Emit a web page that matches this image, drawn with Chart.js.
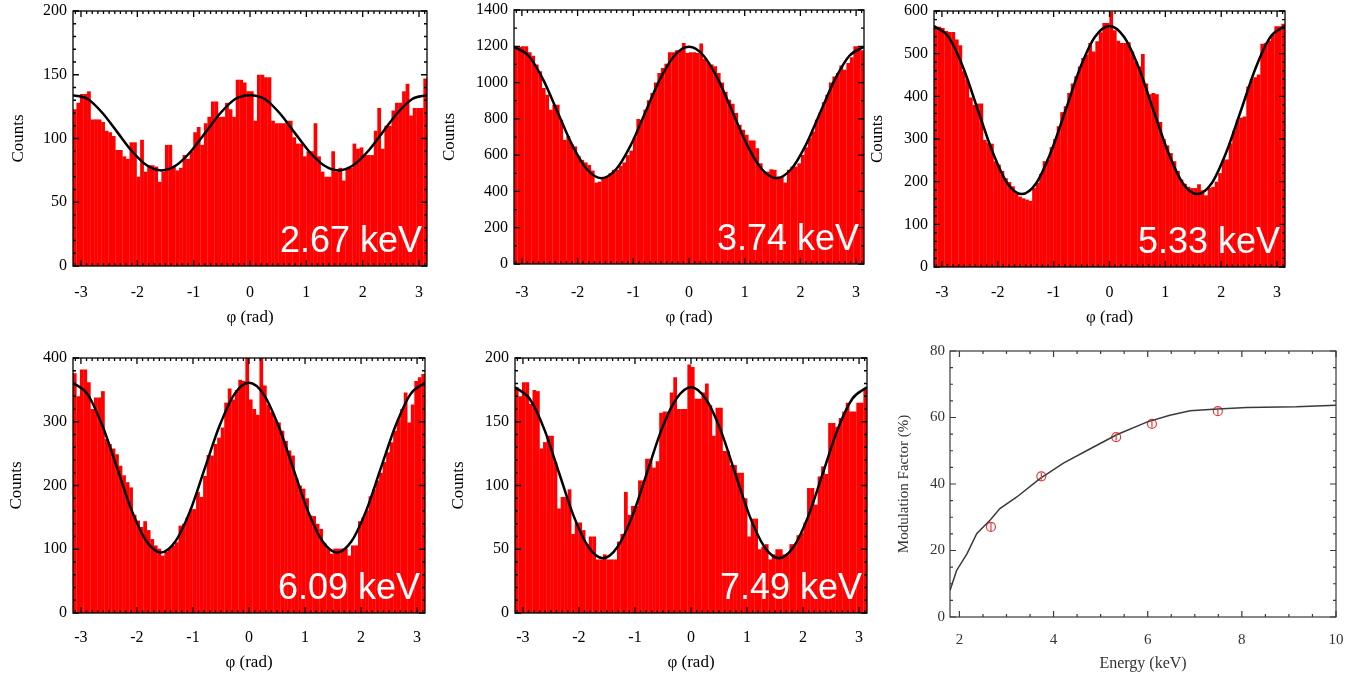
<!DOCTYPE html>
<html>
<head>
<meta charset="utf-8">
<script src="https://cdn.jsdelivr.net/npm/chart.js@4.4.0/dist/chart.umd.min.js"></script>
<style>
  html, body { margin: 0; padding: 0; background: #fff; }
  body { width: 1348px; height: 677px; position: relative; overflow: hidden; }
  .panel { position: absolute; }
</style>
</head>
<body>
<div class="panel" id="p267"><canvas></canvas></div>
<div class="panel" id="p374"><canvas></canvas></div>
<div class="panel" id="p533"><canvas></canvas></div>
<div class="panel" id="p609"><canvas></canvas></div>
<div class="panel" id="p749"><canvas></canvas></div>
<div class="panel" id="pmod"><canvas></canvas></div>
<script>
// histogram counts, 100 bins from -pi to pi
const COUNTS_267 = [
  123,128,135,135,137,115,115,115,113,106,
  105,102,91,91,86,84,97,97,70,99,
  74,79,79,78,66,74,95,95,78,75,
  77,87,84,90,105,109,95,112,117,129,
  129,117,117,128,123,117,146,146,144,137,
  137,114,150,150,148,148,114,112,112,112,
  114,114,101,96,96,86,90,90,112,86,
  74,70,70,90,74,77,67,77,77,96,
  92,93,87,87,87,106,124,92,110,110,
  122,128,128,137,143,118,124,124,124,147
];
const COUNTS_374 = [
  1200,1196,1200,1200,1167,1148,1100,1062,970,933,
  850,878,878,795,684,706,660,648,596,574,
  560,546,515,449,454,473,482,500,519,519,
  541,560,600,625,699,799,795,850,902,942,
  1001,1053,1080,1104,1167,1167,1178,1178,1218,1163,
  1167,1167,1163,1215,1130,1112,1100,1090,1053,1001,
  950,905,883,832,767,740,712,681,681,638,
  555,509,509,522,519,482,482,449,519,537,
  537,555,601,643,694,730,795,835,891,933,
  1000,1034,1053,1094,1071,1108,1140,1200,1200,1178
];
const COUNTS_533 = [
  562,563,560,553,551,551,533,520,459,439,
  397,380,383,383,298,291,289,248,240,225,
  208,199,189,175,165,161,158,155,185,197,
  218,248,252,281,300,330,363,377,408,430,
  447,470,490,498,525,505,529,550,572,572,
  598,555,530,525,525,527,505,482,470,499,
  430,405,408,405,340,300,285,267,248,225,
  205,195,188,185,185,194,180,168,185,188,
  200,220,252,252,290,320,345,350,353,423,
  440,445,451,523,525,530,544,564,564,570
];
const COUNTS_609 = [
  376,340,382,382,362,320,338,338,348,273,
  265,258,249,231,216,205,197,154,145,135,
  144,130,116,106,101,90,96,102,106,111,
  137,140,150,163,163,190,182,215,248,247,
  265,275,291,330,352,335,350,366,364,410,
  335,320,311,410,357,327,315,304,299,286,
  270,255,247,211,200,195,180,153,152,140,
  132,109,101,93,101,101,101,101,90,106,
  106,144,150,161,183,194,208,220,237,252,
  268,286,304,320,346,299,327,364,370,375
];
const COUNTS_749 = [
  177,170,181,181,164,175,174,129,134,139,
  139,118,82,91,91,97,62,71,71,65,
  54,60,60,42,42,46,42,42,42,56,
  62,95,77,84,84,104,104,121,121,114,
  119,157,158,158,173,185,160,160,160,195,
  193,168,168,173,180,163,139,161,161,127,
  127,116,116,110,110,90,60,74,74,50,
  52,54,42,46,50,50,46,47,54,54,
  61,63,71,98,98,85,107,115,109,149,
  149,146,153,158,165,158,158,165,165,175
];

// fitted modulation curves, read at these phi values
const PHI_FIT = [-3.1416,-2.88,-2.618,-2.356,-2.094,-1.833,-1.571,-1.309,-1.047,-0.785,-0.524,-0.262,0,
                 0.262,0.524,0.785,1.047,1.309,1.571,1.833,2.094,2.356,2.618,2.88,3.1416];
const FIT_267 = [134,131,120,105,90,79,75,79,90,105,120,131,134,131,120,105,90,79,75,79,90,105,120,131,134];
const FIT_374 = [1197,1148,1016,835,654,522,473,522,654,835,1016,1148,1197,1148,1016,835,654,522,473,522,654,835,1016,1148,1197];
const FIT_533 = [565,539,467,368,270,197,171,197,270,368,467,539,565,539,467,368,270,197,171,197,270,368,467,539,565];
const FIT_609 = [361,343,294,228,161,113,95,113,161,228,294,343,361,343,294,228,161,113,95,113,161,228,294,343,361];
const FIT_749 = [177,168,144,110,76,52,43,52,76,110,144,168,177,168,144,110,76,52,43,52,76,110,144,168,177];

// modulation factor vs energy
const CURVE_E = [1.8,1.94,2.16,2.37,2.65,2.86,3.22,3.71,4.21,4.78,5.34,5.98,6.47,6.9,7.39,8.1,9.16,10.0];
const CURVE_MF = [8.0,14.0,19.0,25.1,29.1,32.6,36.1,41.6,46.3,50.6,54.8,58.6,60.7,62.0,62.5,63.0,63.2,63.7];
const MEAS_E = [2.67,3.74,5.33,6.09,7.49];
const MEAS_MF = [27.1,42.3,54.1,58.1,61.9];
const MEAS_ERR = [1.3,1.0,1.0,1.0,1.1];

Chart.defaults.font.family = '"Liberation Serif", "Times New Roman", serif';
Chart.defaults.color = '#000';

// draws the IDL-style box with inward ticks on all four sides, plus the energy tag
const idlFrame = {
  id: 'idlFrame',
  afterDatasetsDraw(chart, args, opts) {
    const { ctx, chartArea: a, scales: { x, y } } = chart;
    ctx.save();
    if (opts.label) {
      ctx.fillStyle = '#fff';
      ctx.font = '36px "Liberation Sans", Arial, sans-serif';
      ctx.textAlign = 'right';
      ctx.textBaseline = 'alphabetic';
      ctx.fillText(opts.label, a.right - 5, a.bottom - 14);
    }
    ctx.strokeStyle = opts.color;
    ctx.lineWidth = opts.lineWidth;
    ctx.beginPath();
    const xt = (v, len) => {
      const px = x.getPixelForValue(v);
      ctx.moveTo(px, a.bottom); ctx.lineTo(px, a.bottom - len);
      ctx.moveTo(px, a.top); ctx.lineTo(px, a.top + len);
    };
    const yt = (v, len) => {
      const py = y.getPixelForValue(v);
      ctx.moveTo(a.left, py); ctx.lineTo(a.left + len, py);
      ctx.moveTo(a.right, py); ctx.lineTo(a.right - len, py);
    };
    for (let v = Math.ceil(x.min / opts.xMinor) * opts.xMinor; v <= x.max + 1e-9; v += opts.xMinor) xt(v, opts.minor);
    for (let v = Math.ceil(y.min / opts.yMinor) * opts.yMinor; v <= y.max + 1e-9; v += opts.yMinor) yt(v, opts.minor);
    x.ticks.forEach(t => xt(t.value, opts.major));
    y.ticks.forEach(t => yt(t.value, opts.major));
    ctx.stroke();
    ctx.strokeRect(a.left, a.top, a.right - a.left, a.bottom - a.top);
    ctx.restore();
  }
};
Chart.register(idlFrame);

function place(id, box) {
  const div = document.getElementById(id);
  div.style.left = box[0] + 'px';
  div.style.top = box[1] + 'px';
  div.style.width = (box[2] - box[0]) + 'px';
  div.style.height = (box[3] - box[1]) + 'px';
  return div.querySelector('canvas');
}

// pin the axis boxes so the plot area lands where the original has it
function fixX(h) {
  return s => { s.height = h; s.paddingLeft = 0; s.paddingRight = 0; };
}
function fixY(w) {
  return s => { s.width = w; s.paddingTop = 0; s.paddingBottom = 0; };
}

function histogram(id, counts, fit, o) {
  const canvas = place(id, o.box);
  const step = 2 * Math.PI / counts.length;
  const bars = counts.map((c, i) => ({ x: -Math.PI + (i + 0.5) * step, y: c }));
  const curve = PHI_FIT.map((p, i) => ({ x: p, y: fit[i] }));

  new Chart(canvas, {
    type: 'bar',
    data: {
      datasets: [{
        type: 'line',
        data: curve,
        borderColor: '#000',
        borderWidth: 2.5,
        pointRadius: 0,
        cubicInterpolationMode: 'monotone',
        order: 0
      }, {
        type: 'bar',
        data: bars,
        backgroundColor: '#ff0000',
        borderWidth: 0,
        barPercentage: 1.06,
        categoryPercentage: 1,
        order: 1
      }]
    },
    options: {
      responsive: true,
      maintainAspectRatio: false,
      animation: false,
      events: [],
      layout: { padding: { left: 0, bottom: 0, top: o.plot[1] - o.box[1], right: o.box[2] - o.plot[2] } },
      plugins: {
        legend: { display: false },
        tooltip: { enabled: false },
        idlFrame: { label: o.label, color: '#000', lineWidth: 1.3, xMinor: 0.1, yMinor: o.yMinor, major: 6, minor: 3 }
      },
      scales: {
        x: {
          type: 'linear',
          min: -Math.PI,
          max: Math.PI,
          offset: false,
          grid: { display: false, drawTicks: false },
          border: { display: false },
          ticks: { stepSize: 1, includeBounds: false, padding: o.xPad, autoSkip: false, maxRotation: 0, font: { size: 16 } },
          title: { display: true, text: 'φ (rad)', font: { size: 17 }, padding: { top: 0, bottom: o.xTitlePad } },
          afterFit: fixX(o.box[3] - o.plot[3])
        },
        y: {
          min: 0,
          max: o.yMax,
          grid: { display: false, drawTicks: false },
          border: { display: false },
          ticks: { stepSize: o.yStep, padding: 6, font: { size: 16 }, callback: v => String(v) },
          title: { display: true, text: 'Counts', font: { size: 17 }, padding: { top: o.yTitlePad, bottom: 0 } },
          afterFit: fixY(o.plot[0] - o.box[0])
        }
      }
    }
  });
}

histogram('p267', COUNTS_267, FIT_267, {
  label: '2.67 keV', box: [0, 0, 432, 334], plot: [73, 11, 427, 266],
  yMax: 200, yStep: 50, yMinor: 10, xPad: 17, xTitlePad: 6, yTitlePad: 8
});
histogram('p374', COUNTS_374, FIT_374, {
  label: '3.74 keV', box: [436, 0, 867, 334], plot: [514, 10, 864, 264],
  yMax: 1400, yStep: 200, yMinor: 100, xPad: 19, xTitlePad: 6, yTitlePad: 3
});
histogram('p533', COUNTS_533, FIT_533, {
  label: '5.33 keV', box: [867, 0, 1290, 334], plot: [934, 11, 1285, 267],
  yMax: 600, yStep: 100, yMinor: 20, xPad: 16, xTitlePad: 6, yTitlePad: 0
});
histogram('p609', COUNTS_609, FIT_609, {
  label: '6.09 keV', box: [0, 340, 432, 677], plot: [73, 358, 425, 613],
  yMax: 400, yStep: 100, yMinor: 20, xPad: 15, xTitlePad: 4, yTitlePad: 6
});
histogram('p749', COUNTS_749, FIT_749, {
  label: '7.49 keV', box: [440, 340, 872, 677], plot: [515, 358, 867, 613],
  yMax: 200, yStep: 50, yMinor: 10, xPad: 15, xTitlePad: 4, yTitlePad: 8
});

// modulation factor panel
(function () {
  const box = [890, 340, 1348, 677], plot = [950, 351, 1336, 617];
  const canvas = place('pmod', box);
  const errorBars = {
    id: 'errorBars',
    afterDatasetsDraw(chart) {
      const { ctx, scales: { x, y } } = chart;
      ctx.save();
      ctx.strokeStyle = '#e8393a';
      ctx.lineWidth = 1.2;
      ctx.beginPath();
      MEAS_E.forEach((e, i) => {
        const px = x.getPixelForValue(e);
        ctx.moveTo(px, y.getPixelForValue(MEAS_MF[i] - MEAS_ERR[i]));
        ctx.lineTo(px, y.getPixelForValue(MEAS_MF[i] + MEAS_ERR[i]));
      });
      ctx.stroke();
      ctx.restore();
    }
  };
  new Chart(canvas, {
    type: 'line',
    data: {
      datasets: [{
        data: CURVE_E.map((e, i) => ({ x: e, y: CURVE_MF[i] })),
        borderColor: '#3a3a3a',
        borderWidth: 1.5,
        pointRadius: 0,
        tension: 0
      }, {
        data: MEAS_E.map((e, i) => ({ x: e, y: MEAS_MF[i] })),
        showLine: false,
        pointStyle: 'circle',
        pointRadius: 4.5,
        pointBorderWidth: 1.2,
        pointBorderColor: '#e8393a',
        pointBackgroundColor: 'rgba(0,0,0,0)'
      }]
    },
    plugins: [errorBars],
    options: {
      responsive: true,
      maintainAspectRatio: false,
      animation: false,
      events: [],
      layout: { padding: { left: 0, bottom: 0, top: plot[1] - box[1], right: box[2] - plot[2] } },
      plugins: {
        legend: { display: false },
        tooltip: { enabled: false },
        idlFrame: { label: '', color: '#3a3a3a', lineWidth: 1.2, xMinor: 0.5, yMinor: 5, major: 6, minor: 3 }
      },
      scales: {
        x: {
          type: 'linear', min: 1.8, max: 10,
          grid: { display: false, drawTicks: false },
          border: { display: false },
          ticks: { stepSize: 2, includeBounds: false, padding: 14, color: '#333', font: { size: 15 } },
          title: { display: true, text: 'Energy (keV)', color: '#333', font: { size: 16 }, padding: { top: 0, bottom: 4 } },
          afterFit: fixX(box[3] - plot[3])
        },
        y: {
          min: 0, max: 80,
          grid: { display: false, drawTicks: false },
          border: { display: false },
          ticks: { stepSize: 20, padding: 5, color: '#333', font: { size: 15 } },
          title: { display: true, text: 'Modulation Factor (%)', color: '#333', font: { size: 15 }, padding: { top: 5, bottom: 0 } },
          afterFit: fixY(plot[0] - box[0])
        }
      }
    }
  });
})();
</script>
</body>
</html>
